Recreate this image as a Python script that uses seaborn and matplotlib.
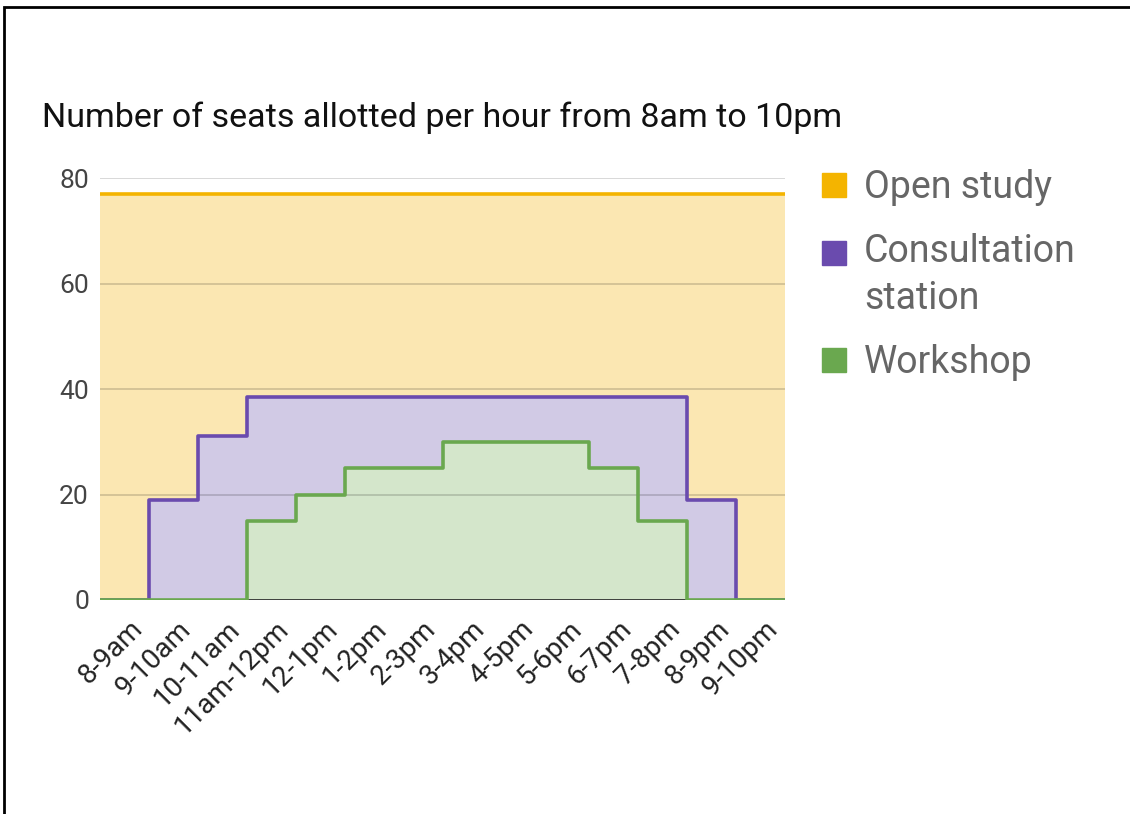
import numpy as np
import pandas as pd
import seaborn as sns
import matplotlib.pyplot as plt
import matplotlib.transforms as mtransforms
from matplotlib.patches import Rectangle
from matplotlib.lines import Line2D

hours = ['8-9am', '9-10am', '10-11am', '11am-12pm', '12-1pm', '1-2pm', '2-3pm',
         '3-4pm', '4-5pm', '5-6pm', '6-7pm', '7-8pm', '8-9pm', '9-10pm']
open_study = [77, 77, 77, 77, 77, 77, 77, 77, 77, 77, 77, 77, 77, 77]
consultation = [0, 19, 31, 38.5, 38.5, 38.5, 38.5, 38.5, 38.5, 38.5, 38.5, 38.5, 19, 0]
workshop = [0, 0, 0, 15, 20, 25, 25, 30, 30, 30, 25, 15, 0, 0]

series = {'Open study': open_study, 'Consultation\nstation': consultation, 'Workshop': workshop}
line_colors = {'Open study': '#F4B400', 'Consultation\nstation': '#6A4BAE', 'Workshop': '#6AA84F'}
fill_colors = {'Open study': '#FBE7B2', 'Consultation\nstation': '#D1CAE5', 'Workshop': '#D4E6CB'}

# step edges: one extra point so the last category gets its full width
rows = []
for name, vals in series.items():
    vals = list(vals) + [vals[-1]]
    for i, v in enumerate(vals):
        rows.append({'x': i - 0.5, 'seats': v, 'type': name})
df = pd.DataFrame(rows)

sns.set_style('white')
plt.rcParams['font.family'] = ['Roboto', 'DejaVu Sans']

fig = plt.figure(figsize=(11.3, 8.14), dpi=100)
ax = fig.add_axes([0.0885, 0.2629, 0.6062, 0.5184])

for name in series:
    d = df[df['type'] == name]
    ax.fill_between(d['x'], d['seats'], step='post', color=fill_colors[name], lw=0, zorder=1)

ax.set_yticks([0, 20, 40, 60, 80])
ax.yaxis.grid(True, color='#000000', alpha=0.18, lw=1.2, zorder=1.5)
ax.set_axisbelow(False)

ax.axhline(0, color='#333333', lw=1.2, zorder=2)

sns.lineplot(data=df, x='x', y='seats', hue='type', palette=line_colors,
             drawstyle='steps-post', lw=2.6, ax=ax, legend=False, zorder=3)
for ln in ax.lines:
    ln.set_solid_joinstyle('round')

ax.set_xlim(-0.5, 13.5)
ax.set_ylim(0, 80)
ax.set_xticks(range(len(hours)))
ax.set_xticklabels(hours, rotation=45, ha='right', rotation_mode='anchor',
                   fontsize=20, color='#222222')
ax.tick_params(axis='x', pad=11, length=0)
ax.tick_params(axis='y', length=0, pad=8, labelsize=19, labelcolor='#444444')
shift = mtransforms.ScaledTranslation(0.04, 0, fig.dpi_scale_trans)
for lab in ax.get_xticklabels():
    lab.set_transform(lab.get_transform() + shift)
ax.set_xlabel('')
ax.set_ylabel('')
for s in ax.spines.values():
    s.set_visible(False)

fig.text(0.037, 0.855, 'Number of seats allotted per hour from 8am to 10pm',
         fontsize=24.5, color='#111111', va='center')

handles = [Line2D([0], [0], marker='s', ls='', markersize=17,
                  markerfacecolor=line_colors[n], markeredgecolor=line_colors[n])
           for n in series]
leg = fig.legend(handles, list(series.keys()), loc='upper left',
                 bbox_to_anchor=(0.708, 0.811), frameon=False, fontsize=27,
                 labelcolor='#666666', handletextpad=0.3, labelspacing=0.72,
                 handlelength=1.0, borderaxespad=0)
for t in leg.get_texts():
    t.set_linespacing(1.35)
# put the two-line entry's marker next to its first line
markers = [l for l in leg.findobj(Line2D) if l.get_marker() == 's']
if len(markers) >= 2:
    m = markers[1]
    m.set_ydata(np.asarray(m.get_ydata(), dtype=float) + 17)

# frame from the screenshot (top and left edges only visible)
fig.patches.append(Rectangle((0.0035, -0.1), 1.2, 0.1915 + 0.9, transform=fig.transFigure,
                             fill=False, edgecolor='black', lw=2))

fig.savefig('out.png', dpi=100)
